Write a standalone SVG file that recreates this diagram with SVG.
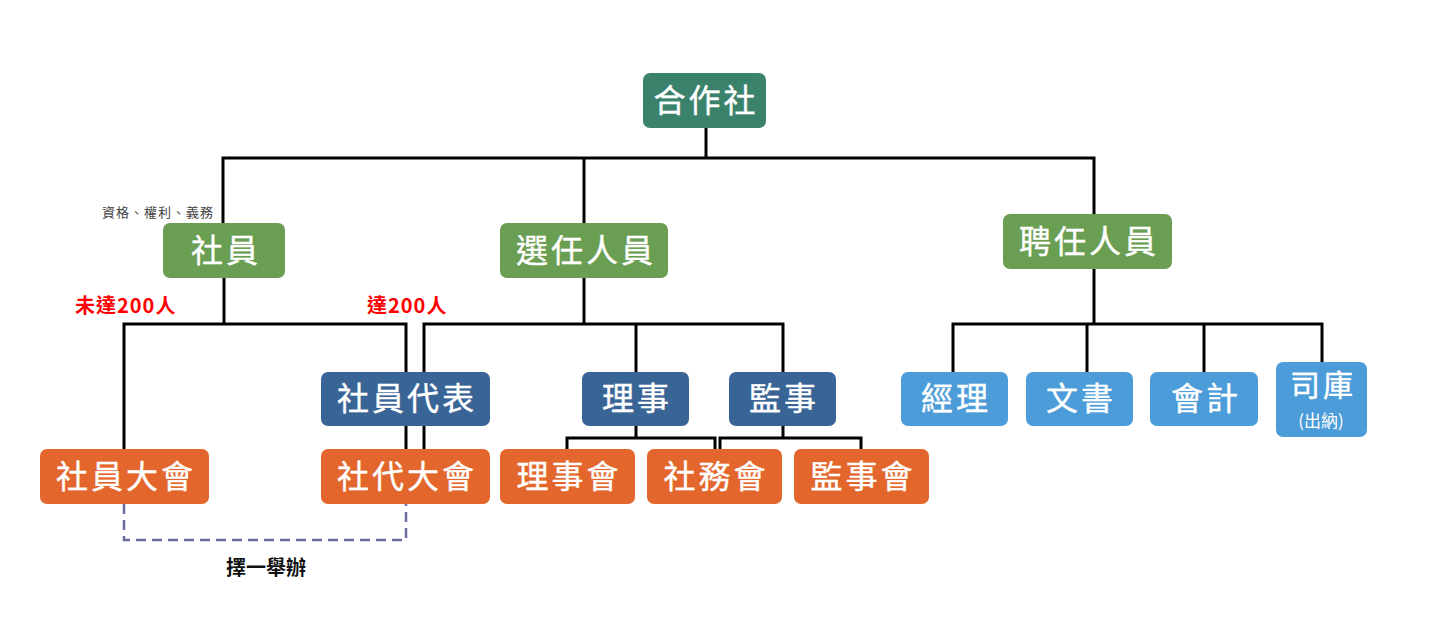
<svg xmlns="http://www.w3.org/2000/svg" width="1440" height="641" viewBox="0 0 1440 641">
<style>
.c{fill:none;stroke:#000;stroke-width:3}
.d{fill:none;stroke:#6a6a9c;stroke-width:2.5;stroke-dasharray:10 6}
.t{fill:#fff;font-family:"Noto Sans CJK TC","Noto Sans CJK SC",sans-serif;font-size:32px;font-weight:normal;text-anchor:middle;dominant-baseline:central;letter-spacing:3px;stroke:#fff;stroke-width:0.4}
.s{fill:#fff;font-family:"Noto Sans CJK TC",sans-serif;font-size:17px;text-anchor:middle;dominant-baseline:central}
.r{fill:#ff0000;font-family:"Noto Sans CJK TC",sans-serif;font-size:20px;font-weight:bold;dominant-baseline:central;letter-spacing:1px}
.top{fill:#3a826b}.g{fill:#6a9e52}.b{fill:#386496}.o{fill:#e3672c}.l{fill:#4c9cd9}
</style>
<rect width="1440" height="641" fill="#fff"/>
<g id="connectors">
<path class="c" d="M706 128V158"/>
<path class="c" d="M223 223V158H1094V214"/>
<path class="c" d="M584 158V223"/>
<path class="c" d="M224 278V324"/>
<path class="c" d="M124 449V324H406V449"/>
<path class="c" d="M584 278V324"/>
<path class="c" d="M424 449V324H783V372"/>
<path class="c" d="M636 324V372"/>
<path class="c" d="M636 426V438"/>
<path class="c" d="M567 449V438H715V449"/>
<path class="c" d="M783 426V438"/>
<path class="c" d="M720 449V438H861V449"/>
<path class="c" d="M1094 269V324"/>
<path class="c" d="M953 372V324H1322V362"/>
<path class="c" d="M1087 324V372"/>
<path class="c" d="M1204 324V372"/>
<path class="d" d="M124 504V540H406V504"/>
</g>
<g id="labels">
<text x="214" y="211" font-family="'Noto Sans CJK TC',sans-serif" font-size="13" fill="#444" text-anchor="end" dominant-baseline="central" letter-spacing="1">資格、權利、義務</text>
<text class="r" x="75" y="304">未達200人</text>
<text class="r" x="367" y="304">達200人</text>
<text x="266" y="566" font-family="'Noto Sans CJK TC',sans-serif" font-size="20" font-weight="bold" fill="#111" text-anchor="middle" dominant-baseline="central">擇一舉辦</text>
</g>
<g id="n-hezuoshe"><rect class="top" x="643" y="73" width="123" height="55" rx="7"/><text class="t" x="706" y="98">合作社</text></g>
<g id="n-sheyuan"><rect class="g" x="163" y="223" width="122" height="55" rx="7"/><text class="t" x="226" y="248">社員</text></g>
<g id="n-xuanren"><rect class="g" x="500" y="223" width="168" height="55" rx="7"/><text class="t" x="586" y="248">選任人員</text></g>
<g id="n-pinren"><rect class="g" x="1003" y="214" width="169" height="55" rx="7"/><text class="t" x="1089" y="239">聘任人員</text></g>
<g id="n-daibiao"><rect class="b" x="321" y="372" width="169" height="54" rx="7"/><text class="t" x="407" y="396">社員代表</text></g>
<g id="n-lishi"><rect class="b" x="582" y="372" width="107" height="54" rx="7"/><text class="t" x="637" y="396">理事</text></g>
<g id="n-jianshi"><rect class="b" x="729" y="372" width="107" height="54" rx="7"/><text class="t" x="784" y="396">監事</text></g>
<g id="n-sheyuandahui"><rect class="o" x="40" y="449" width="169" height="55" rx="7"/><text class="t" x="126" y="474">社員大會</text></g>
<g id="n-shedaidahui"><rect class="o" x="321" y="449" width="169" height="55" rx="7"/><text class="t" x="407" y="474">社代大會</text></g>
<g id="n-lishihui"><rect class="o" x="500" y="449" width="135" height="55" rx="7"/><text class="t" x="569" y="474">理事會</text></g>
<g id="n-shewuhui"><rect class="o" x="647" y="449" width="135" height="55" rx="7"/><text class="t" x="716" y="474">社務會</text></g>
<g id="n-jianshihui"><rect class="o" x="794" y="449" width="135" height="55" rx="7"/><text class="t" x="863" y="474">監事會</text></g>
<g id="n-jingli"><rect class="l" x="901" y="372" width="107" height="54" rx="7"/><text class="t" x="956" y="396">經理</text></g>
<g id="n-wenshu"><rect class="l" x="1026" y="372" width="107" height="54" rx="7"/><text class="t" x="1081" y="396">文書</text></g>
<g id="n-kuaiji"><rect class="l" x="1150" y="372" width="108" height="54" rx="7"/><text class="t" x="1206" y="396">會計</text></g>
<g id="n-siku"><rect class="l" x="1276" y="362" width="91" height="75" rx="7"/><text class="t" x="1323" y="383" style="font-size:30px">司庫</text><text class="s" x="1321" y="419">(出納)</text></g>
</svg>
